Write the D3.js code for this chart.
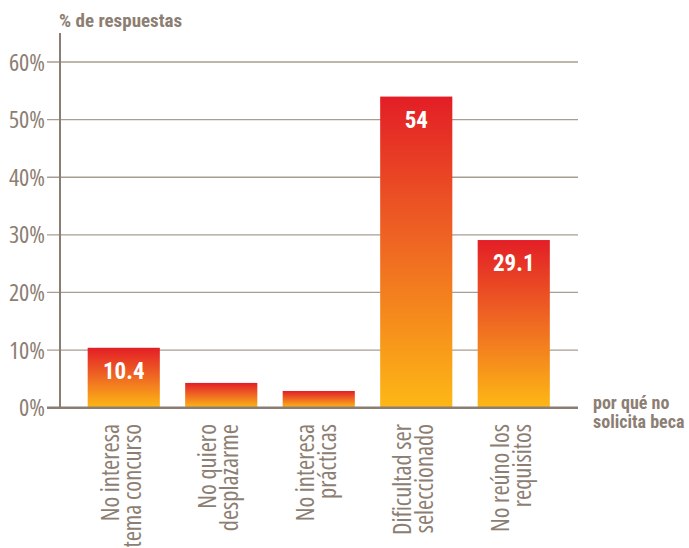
<!DOCTYPE html>
<meta charset="utf-8">
<title>Por qué no solicita beca</title>
<style>
body { margin: 0; background: #fff; }
.tick-label { font-family: "Open Sans", sans-serif; font-stretch: condensed; font-size: 24px; fill: #8c7e72; }
.cat-label { font-family: "Open Sans", sans-serif; font-stretch: condensed; font-size: 24.5px; fill: #8c7e72; }
.title { font-family: "Roboto Condensed", sans-serif; font-size: 19px; font-weight: bold; fill: #8c7e72; }
.xtitle { font-family: "Roboto Condensed", sans-serif; font-size: 18px; font-weight: bold; fill: #8c7e72; }
.value { font-family: "Roboto Condensed", sans-serif; font-size: 23px; font-weight: bold; fill: #fff; text-anchor: middle; }
</style>
<svg width="689" height="548"></svg>
<script src="https://d3js.org/d3.v7.min.js"></script>
<script>

// datos
var categories = [
  ["No interesa", "tema concurso"],
  ["No quiero", "desplazarme"],
  ["No interesa", "prácticas"],
  ["Dificultad ser", "seleccionado"],
  ["No reúno los", "requisitos"]
];
var values = [10.4, 4.3, 2.9, 54, 29.1];
var shownLabels = ["10.4", null, null, "54", "29.1"];
var yTicks = [0, 10, 20, 30, 40, 50, 60];

var svg = d3.select("svg");

var y = d3.scaleLinear().domain([0, 60]).range([407.7, 62]);
var x = d3.scaleBand()
    .domain(d3.range(categories.length))
    .range([75, 562.5])
    .paddingInner(0.26)
    .paddingOuter(0.13);

var defs = svg.append("defs");
var grad = defs.append("linearGradient")
    .attr("id", "barGrad")
    .attr("x1", 0).attr("y1", 0).attr("x2", 0).attr("y2", 1);
grad.append("stop").attr("offset", "0%").attr("stop-color", "#e31e26");
grad.append("stop").attr("offset", "45%").attr("stop-color", "#ee6323");
grad.append("stop").attr("offset", "100%").attr("stop-color", "#fdb815");

// gridlines
svg.append("g").selectAll("line")
  .data(yTicks.filter(function(d) { return d > 0; }))
  .enter().append("line")
    .attr("x1", 47).attr("x2", 578)
    .attr("y1", function(d) { return y(d); })
    .attr("y2", function(d) { return y(d); })
    .attr("stroke", "#a89d92")
    .attr("stroke-width", 1.3);

// tick labels
svg.append("g").selectAll("text")
  .data(yTicks)
  .enter().append("text")
    .attr("class", "tick-label")
    .attr("x", 45)
    .attr("y", function(d) { return y(d); })
    .attr("dy", "0.36em")
    .attr("text-anchor", "end")
    .text(function(d) { return d + "%"; });

// bars
svg.append("g").selectAll("rect")
  .data(values)
  .enter().append("rect")
    .attr("x", function(d, i) { return x(i); })
    .attr("width", x.bandwidth())
    .attr("y", function(d) { return y(d); })
    .attr("height", function(d) { return y(0) - y(d); })
    .attr("fill", "url(#barGrad)");

// value labels (solo las barras grandes)
var labelled = values.map(function(v, i) { return { v: v, i: i, t: shownLabels[i] }; })
    .filter(function(d) { return d.t; });
svg.append("g").selectAll("text")
  .data(labelled)
  .enter().append("text")
    .attr("class", "value")
    .attr("x", function(d) { return x(d.i) + x.bandwidth() / 2; })
    .attr("y", function(d) { return y(d.v) + 31; })
    .text(function(d) { return d.t; });

// axes
svg.append("line")
    .attr("x1", 60).attr("x2", 60)
    .attr("y1", 33).attr("y2", y(0))
    .attr("stroke", "#8a7d72").attr("stroke-width", 2);
svg.append("line")
    .attr("x1", 47).attr("x2", 578)
    .attr("y1", y(0)).attr("y2", y(0))
    .attr("stroke", "#8a7d72").attr("stroke-width", 2.5);

// category labels, rotated
var cat = svg.append("g").selectAll("g")
  .data(categories)
  .enter().append("g")
    .attr("transform", function(d, i) {
      return "translate(" + (x(i) + x.bandwidth() / 2) + ",424) rotate(-90)";
    });
cat.each(function(lines) {
  var g = d3.select(this);
  lines.forEach(function(t, j) {
    g.append("text")
      .attr("class", "cat-label")
      .attr("text-anchor", "end")
      .attr("x", 0)
      .attr("y", j === 0 ? -5 : 17)
      .text(t);
  });
});

// titles
svg.append("text")
    .attr("class", "title")
    .attr("x", 59).attr("y", 27)
    .text("% de respuestas");
svg.append("text")
    .attr("class", "xtitle")
    .attr("x", 593).attr("y", 409)
    .text("por qué no");
svg.append("text")
    .attr("class", "xtitle")
    .attr("x", 593).attr("y", 428)
    .text("solicita beca");

</script>
